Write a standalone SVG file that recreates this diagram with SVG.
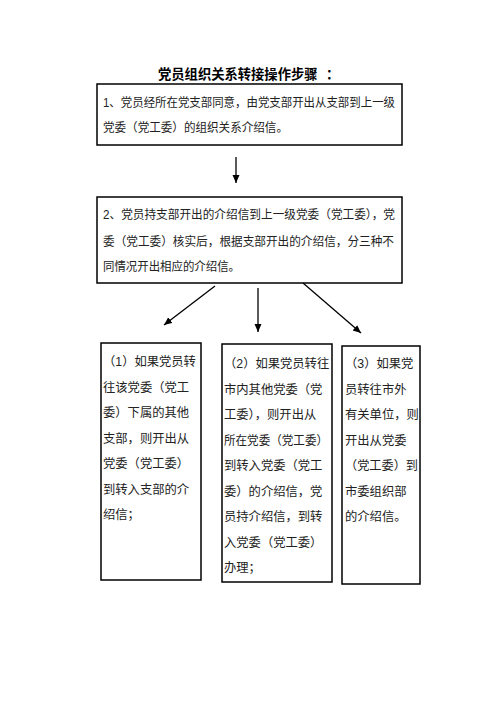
<svg xmlns="http://www.w3.org/2000/svg" width="496" height="702" viewBox="0 0 496 702">
<defs>
<marker id="ah" markerUnits="userSpaceOnUse" markerWidth="9" markerHeight="8" refX="8" refY="3.5" orient="auto">
<path d="M0,0 L8,3.5 L0,7 z" fill="#000"/>
</marker>
<style>
.box{fill:#fff;stroke:#000;stroke-width:1.5}
.t{font-family:"Liberation Sans","Noto Sans CJK SC",sans-serif;font-size:12px;fill:#222}
.s{font-family:"Liberation Sans","Noto Sans CJK SC",sans-serif;font-size:12.3px;fill:#222}
.title{font-family:"Liberation Sans","Noto Sans CJK SC",sans-serif;font-size:13.3px;font-weight:bold;fill:#000}
.c{stroke:#000;stroke-width:1.3;fill:none;marker-end:url(#ah)}
</style>
</defs>
<rect width="496" height="702" fill="#fff"/>
<text class="title" x="158" y="79">党员组织关系转接操作步骤<tspan x="326">：</tspan></text>
<g id="step1">
<rect class="box" x="97" y="84" width="305" height="61"/>
<text class="t" x="103" y="107" textLength="292" lengthAdjust="spacingAndGlyphs">1、党员经所在党支部同意，由党支部开出从支部到上一级</text>
<text class="t" x="103" y="132" textLength="185" lengthAdjust="spacingAndGlyphs">党委（党工委）的组织关系介绍信。</text>
</g>
<g id="step2">
<rect class="box" x="97" y="197" width="305" height="86"/>
<text class="t" x="103" y="219" textLength="292" lengthAdjust="spacingAndGlyphs">2、党员持支部开出的介绍信到上一级党委（党工委），党</text>
<text class="t" x="103" y="246" textLength="291" lengthAdjust="spacingAndGlyphs">委（党工委）核实后，根据支部开出的介绍信，分三种不</text>
<text class="t" x="103" y="271" textLength="137" lengthAdjust="spacingAndGlyphs">同情况开出相应的介绍信。</text>
</g>
<g id="case1">
<rect class="box" x="101" y="343" width="100" height="237"/>
<text class="s" x="103" y="366">（1）如果党员转</text>
<text class="s" x="103" y="392">往该党委（党工</text>
<text class="s" x="103" y="417">委）下属的其他</text>
<text class="s" x="103" y="443">支部，则开出从</text>
<text class="s" x="103" y="468">党委（党工委）</text>
<text class="s" x="103" y="494">到转入支部的介</text>
<text class="s" x="103" y="519">绍信；</text>
</g>
<g id="case2">
<rect class="box" x="222" y="344" width="110" height="238"/>
<text class="s" x="224" y="368">（2）如果党员转往</text>
<text class="s" x="224" y="394">市内其他党委（党</text>
<text class="s" x="224" y="419">工委），则开出从</text>
<text class="s" x="224" y="445" textLength="104" lengthAdjust="spacingAndGlyphs">所在党委（党工委）</text>
<text class="s" x="224" y="470">到转入党委（党工</text>
<text class="s" x="224" y="496">委）的介绍信，党</text>
<text class="s" x="224" y="521">员持介绍信，到转</text>
<text class="s" x="224" y="547">入党委（党工委）</text>
<text class="s" x="224" y="572">办理；</text>
</g>
<g id="case3">
<rect class="box" x="342" y="346" width="78" height="238"/>
<text class="s" x="345" y="368">（3）如果党</text>
<text class="s" x="345" y="394">员转往市外</text>
<text class="s" x="345" y="419">有关单位，则</text>
<text class="s" x="345" y="445">开出从党委</text>
<text class="s" x="345" y="470" textLength="73" lengthAdjust="spacingAndGlyphs">（党工委）到</text>
<text class="s" x="345" y="496">市委组织部</text>
<text class="s" x="345" y="521">的介绍信。</text>
</g>
<g id="connectors">
<line class="c" x1="236" y1="157" x2="236" y2="183"/>
<line class="c" x1="215" y1="286" x2="164" y2="325"/>
<line class="c" x1="258" y1="288" x2="258" y2="332"/>
<line class="c" x1="303" y1="283" x2="361" y2="333"/>
</g>
</svg>
